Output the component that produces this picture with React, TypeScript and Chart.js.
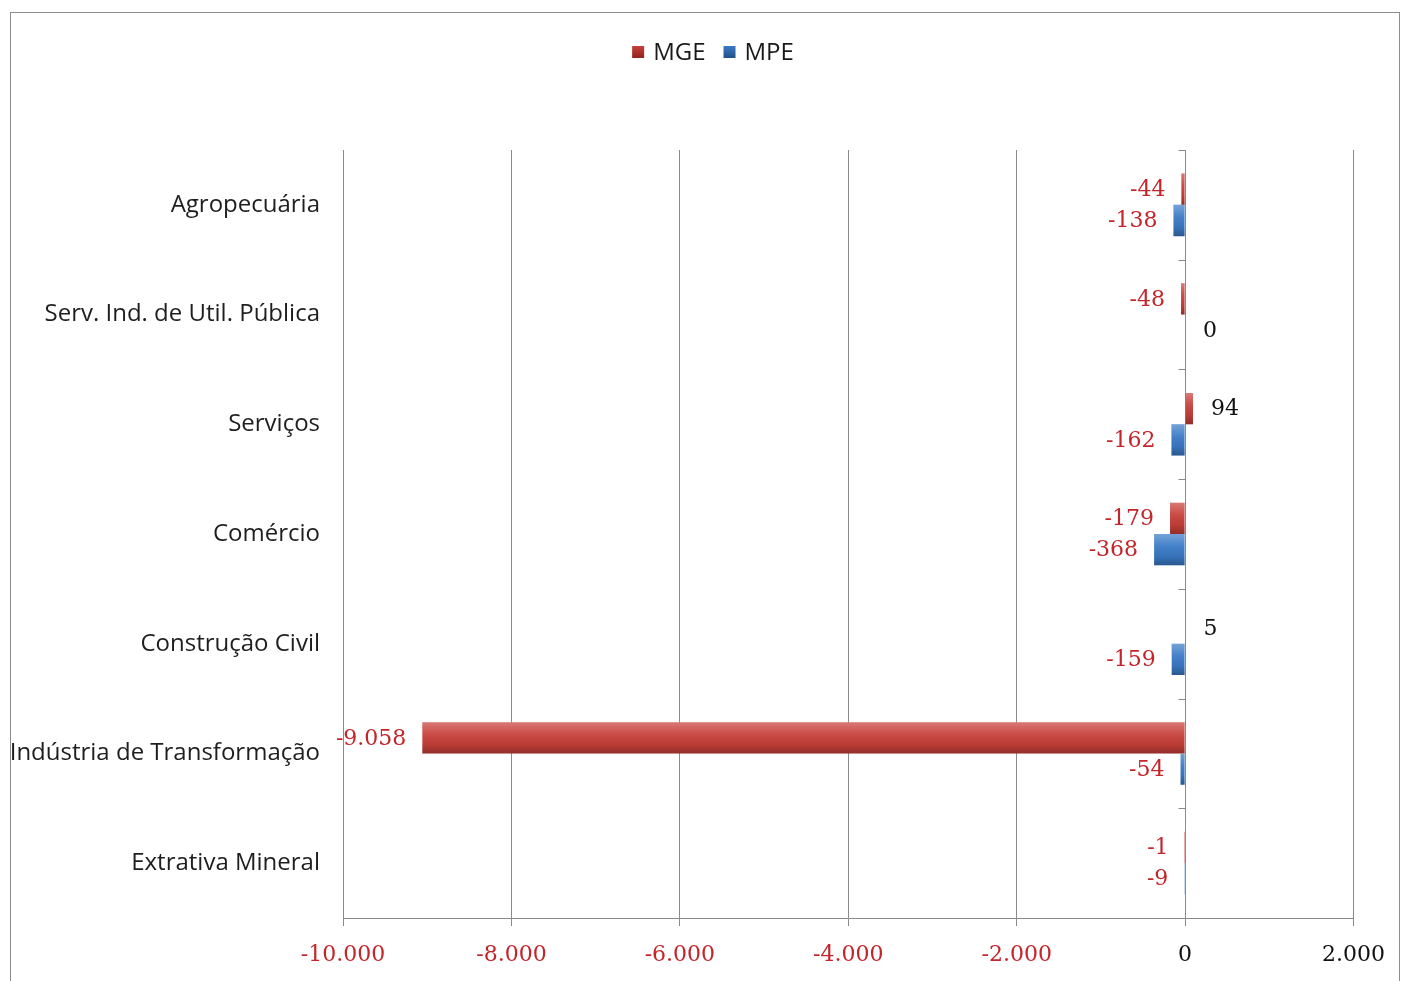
import React, { useEffect, useRef } from "react";
import { Chart, registerables } from "chart.js";

Chart.register(...registerables);

const categories = [
  "Agropecuária",
  "Serv. Ind. de Util. Pública",
  "Serviços",
  "Comércio",
  "Construção Civil",
  "Indústria de Transformação",
  "Extrativa Mineral",
];
const seriesNames = ["MGE", "MPE"];
const mgeValues = [-44, -48, 94, -179, 5, -9058, -1];
const mpeValues = [-138, 0, -162, -368, -159, -54, -9];
const xMin = -10000;
const xMax = 2000;
const xStep = 2000;

const RED = "#c8403a";
const BLUE = "#3a7ac6";
const LABEL_RED = "#c4252b";
const SERIF = "'DejaVu Serif', serif";
const SANS = "'Open Sans', sans-serif";

function fmt(v: number): string {
  const s = Math.abs(Math.round(v))
    .toString()
    .replace(/\B(?=(\d{3})+(?!\d))/g, ".");
  return (v < 0 ? "-" : "") + s;
}

const barShadePlugin = {
  id: "barShade",
  afterDatasetsDraw(chart: any) {
    const ctx = chart.ctx;
    chart.data.datasets.forEach((ds: any, i: number) => {
      const meta = chart.getDatasetMeta(i);
      meta.data.forEach((bar: any) => {
        const p = bar.getProps(["x", "y", "base", "height"], true);
        const left = Math.min(p.x, p.base);
        const right = Math.max(p.x, p.base);
        if (right - left < 0.5) return;
        const top = p.y - p.height / 2;
        const g = ctx.createLinearGradient(0, top, 0, top + p.height);
        g.addColorStop(0, "rgba(255,255,255,0.30)");
        g.addColorStop(0.35, "rgba(255,255,255,0.08)");
        g.addColorStop(0.7, "rgba(0,0,0,0.05)");
        g.addColorStop(1, "rgba(0,0,0,0.28)");
        ctx.save();
        ctx.fillStyle = g;
        ctx.fillRect(left, top, right - left, p.height);
        ctx.restore();
      });
    });
  },
};

const dataLabelPlugin = {
  id: "dataLabels",
  afterDatasetsDraw(chart: any) {
    const ctx = chart.ctx;
    ctx.save();
    ctx.font = "22px " + SERIF;
    ctx.textBaseline = "middle";
    chart.data.datasets.forEach((ds: any, i: number) => {
      const meta = chart.getDatasetMeta(i);
      meta.data.forEach((bar: any, j: number) => {
        const v = ds.data[j];
        const p = bar.getProps(["x", "y", "base"], true);
        if (v < 0) {
          ctx.fillStyle = LABEL_RED;
          ctx.textAlign = "right";
          ctx.fillText(fmt(v), Math.min(p.x, p.base) - 16, p.y + 1);
        } else {
          ctx.fillStyle = "#111";
          ctx.textAlign = "left";
          ctx.fillText(fmt(v), Math.max(p.x, p.base) + 18, p.y + 1);
        }
      });
    });
    ctx.restore();
  },
};

const axisTicksPlugin = {
  id: "zeroAxisTicks",
  afterDraw(chart: any) {
    const ctx = chart.ctx;
    const xs = chart.scales.x;
    const area = chart.chartArea;
    const x0 = Math.round(xs.getPixelForValue(0)) + 0.5;
    const n = categories.length;
    const h = (area.bottom - area.top) / n;
    ctx.save();
    ctx.strokeStyle = "#8a8a8a";
    ctx.lineWidth = 1;
    for (let k = 0; k <= n; k++) {
      const y = Math.round(area.top + k * h) + 0.5;
      ctx.beginPath();
      ctx.moveTo(x0 - 7, y);
      ctx.lineTo(x0, y);
      ctx.stroke();
    }
    ctx.restore();
  },
};

const legendPlugin = {
  id: "customLegend",
  afterDraw(chart: any) {
    const ctx = chart.ctx;
    ctx.save();
    ctx.font = "24px " + SANS;
    ctx.textBaseline = "middle";
    const colors = [RED, BLUE];
    const box = 12;
    const gapBoxText = 9;
    const gapItems = 18;
    const widths = seriesNames.map((s) => ctx.measureText(s).width);
    let total = 0;
    widths.forEach((w, i) => {
      total += box + gapBoxText + w + (i < widths.length - 1 ? gapItems : 0);
    });
    let x = 713 - total / 2;
    const cy = 52;
    seriesNames.forEach((s, i) => {
      const g = ctx.createLinearGradient(0, cy - box / 2, 0, cy + box / 2);
      g.addColorStop(0, colors[i]);
      g.addColorStop(1, i === 0 ? "#8f2420" : "#22508a");
      ctx.fillStyle = g;
      ctx.fillRect(x, cy - box / 2, box, box);
      x += box + gapBoxText;
      ctx.fillStyle = "#1a1a1a";
      ctx.textAlign = "left";
      ctx.fillText(s, x, cy + 1);
      x += widths[i] + gapItems;
    });
    ctx.restore();
  },
};

export default function App() {
  const canvasRef = useRef<HTMLCanvasElement | null>(null);

  useEffect(() => {
    document.body.style.margin = "0";
    const canvas = canvasRef.current;
    if (!canvas) return;
    const chart = new Chart(canvas, {
      type: "bar",
      data: {
        labels: categories,
        datasets: [
          {
            label: seriesNames[0],
            data: mgeValues,
            backgroundColor: RED,
            borderWidth: 0,
            categoryPercentage: 0.57,
            barPercentage: 1.0,
          },
          {
            label: seriesNames[1],
            data: mpeValues,
            backgroundColor: BLUE,
            borderWidth: 0,
            categoryPercentage: 0.57,
            barPercentage: 1.0,
          },
        ],
      },
      options: {
        indexAxis: "y",
        responsive: false,
        animation: false,
        layout: { padding: { top: 150, right: 44, left: 0, bottom: 0 } },
        plugins: {
          legend: { display: false },
          tooltip: { enabled: false },
          title: { display: false },
        },
        scales: {
          x: {
            type: "linear",
            min: xMin,
            max: xMax,
            ticks: {
              stepSize: xStep,
              padding: 16,
              font: { family: SERIF, size: 22 },
              color: (c: any) => (c.tick && c.tick.value < 0 ? LABEL_RED : "#111"),
              callback: (v: any) => fmt(Number(v)),
              maxRotation: 0,
            },
            grid: {
              color: "#8a8a8a",
              lineWidth: 1,
              drawTicks: true,
              tickLength: 8,
            },
            border: { display: true, color: "#8a8a8a", width: 1 },
            afterFit: (s: any) => {
              s.height = 63;
            },
          },
          y: {
            type: "category",
            ticks: {
              padding: 23,
              font: { family: SANS, size: 24 },
              color: "#1e1e1e",
            },
            grid: { display: false, drawTicks: false },
            border: { display: false },
            afterFit: (s: any) => {
              s.width = 343;
            },
          },
        },
      },
      plugins: [barShadePlugin, dataLabelPlugin, axisTicksPlugin, legendPlugin],
    } as any);
    return () => chart.destroy();
  }, []);

  return (
    <div style={{ position: "relative", width: 1401, height: 981, overflow: "hidden", background: "#fff" }}>
      <canvas ref={canvasRef} width={1401} height={981} style={{ display: "block" }} />
      <div
        style={{
          position: "absolute",
          left: 10,
          top: 12,
          width: 1388,
          height: 1000,
          border: "1px solid #8c8c8c",
          pointerEvents: "none",
        }}
      />
    </div>
  );
}
